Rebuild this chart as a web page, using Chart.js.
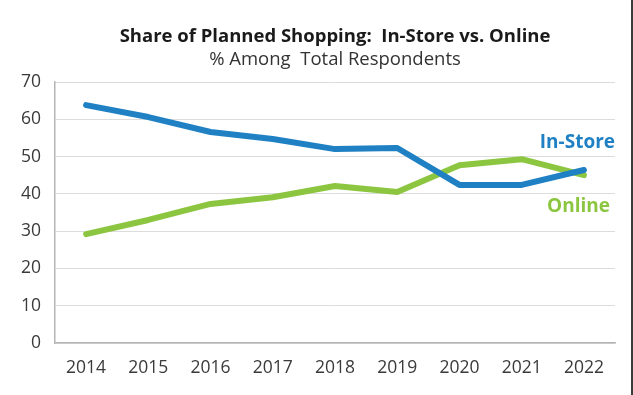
<!DOCTYPE html>
<html>
<head>
<meta charset="utf-8">
<script src="https://cdn.jsdelivr.net/npm/chart.js@4"></script>
<style>
  html, body { margin: 0; padding: 0; background: #fff; }
  #wrap { width: 631px; height: 395px; border-right: 2px solid #3a3a3a; position: relative; }
</style>
</head>
<body>
<div id="wrap"><canvas id="chart1" width="631" height="395"></canvas></div>
<script>
// data
const years = ['2014', '2015', '2016', '2017', '2018', '2019', '2020', '2021', '2022'];
const inStore = [63.8, 60.6, 56.6, 54.7, 52.0, 52.3, 42.4, 42.4, 46.4];
const online = [29.2, 33.0, 37.3, 39.1, 42.1, 40.5, 47.7, 49.3, 45.0];
const yTicks = [0, 10, 20, 30, 40, 50, 60, 70];

const blue = '#1f80c3';
const green = '#8cc641';

// titles + end labels drawn over the plot
const overlay = {
  id: 'overlay',
  afterDraw(chart) {
    const { ctx, chartArea } = chart;
    const mid = (chartArea.left + chartArea.right) / 2;
    ctx.save();
    ctx.textAlign = 'center';
    ctx.textBaseline = 'middle';
    ctx.fillStyle = '#1a1a1a';
    ctx.font = 'bold 18.5px "Open Sans"';
    ctx.fillText('Share of Planned Shopping:  In-Store vs. Online', mid, 37);
    ctx.fillStyle = '#333';
    ctx.font = '18.5px "Open Sans"';
    ctx.fillText('% Among  Total Respondents', mid, 60);

    ctx.textAlign = 'right';
    ctx.font = 'bold 19px "Open Sans"';
    ctx.fillStyle = blue;
    ctx.fillText('In-Store', chartArea.right, 143);
    ctx.fillStyle = green;
    ctx.fillText('Online', chartArea.right - 5, 207);
    ctx.restore();
  }
};

const chart1 = document.getElementById('chart1').getContext('2d');
new Chart(chart1, {
  type: 'line',
  data: {
    labels: years,
    datasets: [
      { label: 'In-Store', data: inStore, borderColor: blue, backgroundColor: blue },
      { label: 'Online', data: online, borderColor: green, backgroundColor: green }
    ]
  },
  options: {
    responsive: false,
    animation: false,
    layout: { padding: { top: 82, right: 16, left: 0, bottom: 0 } },
    elements: {
      line: { borderWidth: 6, tension: 0, borderCapStyle: 'round', borderJoinStyle: 'round' },
      point: { radius: 0 }
    },
    plugins: { legend: { display: false }, tooltip: { enabled: false } },
    scales: {
      x: {
        offset: true,
        grid: { display: false, drawTicks: false },
        border: { display: true, color: '#b5b5b5', width: 1.5 },
        ticks: { color: '#3a3a3a', font: { family: '"Open Sans"', size: 17.5 }, padding: 15, maxRotation: 0 },
        afterFit(scale) { scale.height = 52; }
      },
      y: {
        min: 0,
        max: 70,
        afterBuildTicks(scale) { scale.ticks = yTicks.map(v => ({ value: v })); },
        grid: { color: '#dcdcdc', drawTicks: false, lineWidth: 1 },
        border: { display: true, color: '#b5b5b5', width: 1.5 },
        ticks: { color: '#3a3a3a', font: { family: '"Open Sans"', size: 17.5 }, padding: 14 },
        afterFit(scale) { scale.width = 55; }
      }
    }
  },
  plugins: [overlay]
});
</script>
</body>
</html>
